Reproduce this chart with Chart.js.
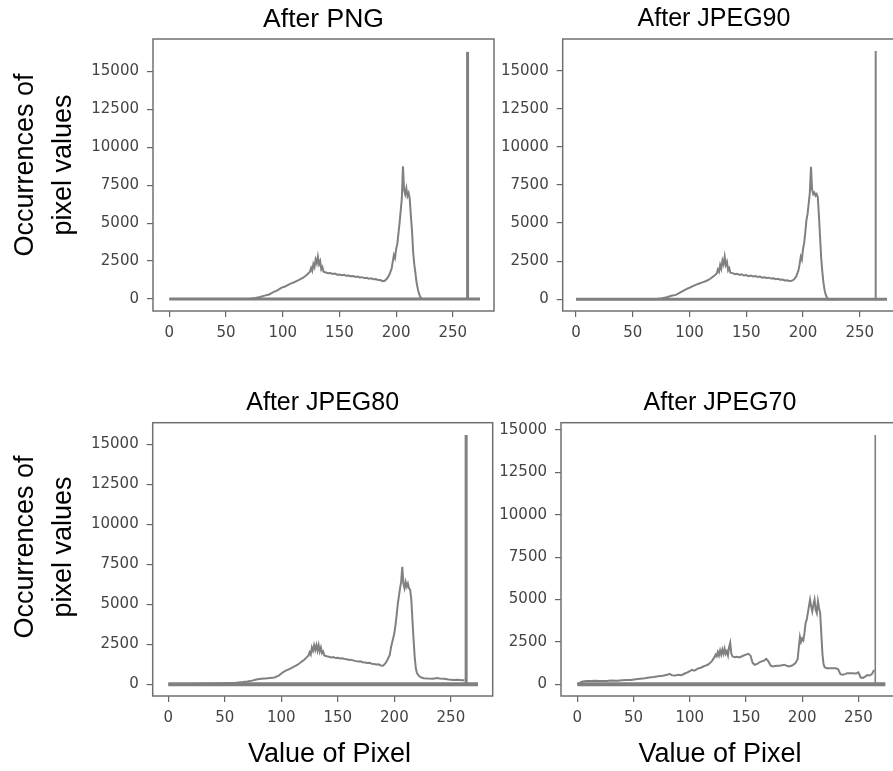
<!DOCTYPE html>
<html>
<head>
<meta charset="utf-8">
<script src="https://cdn.jsdelivr.net/npm/chart.js@4.4.1/dist/chart.umd.min.js"></script>
<style>
  html, body { margin: 0; padding: 0; background: #fff; overflow: hidden; }
  #page { position: relative; width: 893px; height: 771px; overflow: hidden; background: #fff; }
  canvas { position: absolute; }
</style>
</head>
<body>
<div id="page">
  <canvas id="png"></canvas>
  <canvas id="jpeg90"></canvas>
  <canvas id="jpeg80"></canvas>
  <canvas id="jpeg70"></canvas>
</div>
<script>
// tick labels
const xTicks = [0, 50, 100, 150, 200, 250];
const yTicks = [0, 2500, 5000, 7500, 10000, 12500, 15000];

const titles = ['After PNG', 'After JPEG90', 'After JPEG80', 'After JPEG70'];
const yLabel = ['Occurrences of', 'pixel values'];
const xLabel = 'Value of Pixel';

// flat line drawn at zero under every histogram
const baselineBins = [0, 274];

// the tall single bar near the right edge of each panel
const spikeBins = [263, 264, 263.5, 265];
const spikeCounts = [16300, 16290, 15580, 14700];

const pngBins = [0, 70, 76, 80, 84, 88, 90, 92, 94, 96, 98, 100, 102, 104, 106, 108, 110, 112, 114, 116, 118, 120, 122, 124,
  125, 126, 127, 128, 129, 130, 131, 132, 133, 134, 135, 136, 138, 140, 142, 144, 146, 148, 150, 152, 154, 156, 158, 160,
  162, 164, 166, 168, 170, 172, 174, 176, 178, 180, 182, 184, 186, 188, 190, 192, 194, 196, 197, 198, 199, 200, 201, 202,
  203, 204, 205, 206, 207, 208, 209, 210, 211, 212, 213, 214, 215, 216, 217, 218, 219, 220, 221, 222, 223, 230];
const pngCounts = [0, 0, 60, 130, 220, 300, 380, 470, 520, 600, 700, 780, 820, 900, 980, 1050, 1100, 1180, 1250, 1330, 1400, 1520, 1650, 1800,
  2050, 1850, 2300, 2100, 2600, 2350, 2800, 2300, 2500, 1950, 2100, 1800, 1750, 1700, 1720, 1650, 1680, 1600, 1620, 1570, 1600, 1540, 1550, 1500,
  1520, 1450, 1480, 1420, 1440, 1380, 1400, 1340, 1360, 1300, 1320, 1260, 1250, 1180, 1200, 1350, 1600, 2000, 2450, 2900, 2700, 3300, 3600, 4300,
  5000, 5800, 6600, 8750, 7200, 6900, 7300, 6800, 7000, 6600, 5500, 4500, 3100, 2300, 1700, 1100, 700, 400, 180, 60, 0, 0];

const jpeg90Bins = [0, 70, 76, 80, 84, 88, 90, 92, 94, 96, 98, 100, 102, 104, 106, 108, 110, 112, 114, 116, 118, 120, 122, 124,
  125, 126, 127, 128, 129, 130, 131, 132, 133, 134, 135, 136, 138, 140, 142, 144, 146, 148, 150, 152, 154, 156, 158, 160,
  162, 164, 166, 168, 170, 172, 174, 176, 178, 180, 182, 184, 186, 188, 190, 192, 194, 196, 197, 198, 199, 200, 201, 202,
  203, 204, 205, 206, 207, 208, 209, 210, 211, 212, 213, 214, 215, 216, 217, 218, 219, 220, 221, 222, 223, 230];
const jpeg90Counts = [0, 0, 70, 140, 230, 290, 370, 460, 540, 620, 700, 760, 830, 900, 960, 1020, 1080, 1130, 1180, 1250, 1330, 1450, 1560, 1700,
  1950, 1800, 2250, 2000, 2550, 2300, 2800, 2250, 2450, 1900, 2050, 1750, 1720, 1650, 1680, 1600, 1640, 1560, 1590, 1520, 1560, 1500, 1520, 1470,
  1490, 1420, 1450, 1400, 1420, 1360, 1380, 1320, 1340, 1280, 1300, 1240, 1250, 1200, 1210, 1300, 1500, 1900, 2300, 2800, 2600, 3300, 3700, 4400,
  5200, 5600, 6300, 7000, 8700, 7200, 6900, 7000, 6800, 6900, 6700, 5500, 4100, 2700, 1800, 1100, 600, 300, 120, 30, 0, 0];

const jpeg80Bins = [0, 20, 40, 50, 60, 66, 70, 74, 78, 82, 86, 90, 94, 98, 100, 102, 104, 106, 108, 110, 112, 114, 116, 118, 120, 122, 124,
  125, 126, 127, 128, 129, 130, 131, 132, 133, 134, 135, 136, 137, 138, 140, 142, 144, 146, 148, 150, 152, 154, 156, 158, 160,
  162, 164, 166, 168, 170, 172, 174, 176, 178, 180, 182, 184, 186, 188, 190, 192, 194, 196, 197, 198, 199, 200, 201, 202,
  203, 204, 205, 206, 207, 208, 209, 210, 211, 212, 213, 214, 215, 216, 217, 218, 219, 220, 222, 224, 226, 230, 234, 238,
  240, 244, 248, 252, 256, 260, 262];
const jpeg80Counts = [0, 20, 50, 70, 100, 140, 180, 230, 300, 340, 370, 400, 430, 560, 680, 780, 850, 920, 980, 1060, 1130, 1220, 1300, 1420, 1520, 1650, 1800,
  2000, 1850, 2300, 2100, 2450, 2150, 2450, 2100, 2450, 2050, 2300, 1950, 2050, 1800, 1750, 1720, 1680, 1700, 1640, 1660, 1610, 1620, 1580, 1560, 1520,
  1540, 1480, 1450, 1420, 1440, 1380, 1360, 1330, 1350, 1290, 1270, 1240, 1250, 1180, 1160, 1300, 1550, 1850, 2300, 2600, 2900, 3200, 3700, 4300,
  5000, 5500, 6000, 6400, 7350, 6300, 6000, 6400, 6100, 6300, 6000, 5900, 5300, 4000, 2800, 1700, 1000, 700, 500, 420, 380, 360, 350, 390,
  370, 340, 300, 270, 280, 260, 250];

const jpeg70Bins = [0, 4, 8, 12, 16, 20, 26, 30, 36, 40, 44, 48, 52, 56, 60, 64, 68, 72, 76, 80, 82, 84, 86, 88, 90, 92, 94, 96, 98, 100,
  102, 104, 106, 108, 110, 112, 114, 116, 118, 120, 122, 123, 124, 125, 126, 127, 128, 129, 130, 131, 132, 133, 134, 135, 136, 137, 138,
  140, 142, 144, 146, 148, 150, 152, 154, 156, 158, 160, 162, 164, 166, 168, 170, 172, 174, 176, 178, 180, 182, 184, 186, 188, 190, 192,
  194, 196, 197, 198, 199, 200, 201, 202, 203, 204, 205, 206, 207, 208, 209, 210, 211, 212, 213, 214, 215, 216, 217, 218, 219, 220,
  222, 226, 230, 232, 234, 236, 238, 240, 244, 248, 250, 252, 254, 256, 258, 260, 262, 264];
const jpeg70Counts = [0, 150, 200, 190, 210, 200, 200, 220, 210, 240, 260, 250, 300, 330, 360, 400, 430, 480, 500, 560, 620, 540, 520, 530, 560, 540, 580, 650, 700, 780,
  850, 800, 880, 950, 980, 1050, 1100, 1150, 1250, 1400, 1600, 1750, 1650, 1900, 1700, 2000, 1750, 2050, 1800, 2100, 1800, 1950, 1700, 2200, 2450, 1800, 1650,
  1600, 1620, 1580, 1640, 1700, 1750, 1800, 1700, 1250, 1150, 1200, 1300, 1350, 1400, 1500, 1350, 1100, 1050, 1080, 1100, 1100, 1120, 1150, 1100, 1050, 1080, 1150,
  1250, 1500, 2200, 2800, 2500, 2700, 2600, 3000, 3600, 3800, 4200, 4600, 5000, 4600, 4300, 4700, 5000, 4400, 4200, 4900, 4500, 4200, 3000, 1800, 1200, 1000,
  950, 950, 940, 880, 600, 560, 600, 650, 650, 640, 700, 400, 380, 450, 550, 520, 600, 850];

const GREY = '#808080';
const textFont = { family: 'Liberation Sans', size: 27, weight: 'normal', lineHeight: 1.2 };
const tickFont = { family: 'DejaVu Sans', size: 15 };

// axes frame on all four sides
const frame = {
  id: 'frame',
  afterDatasetsDraw(chart) {
    const { ctx, chartArea: a } = chart;
    ctx.save();
    ctx.strokeStyle = '#707070';
    ctx.lineWidth = 1.5;
    ctx.strokeRect(a.left, a.top, a.right - a.left, a.bottom - a.top);
    ctx.restore();
  }
};

// canvas = where the canvas sits on the page, area = where the plot frame goes.
// Wide canvases + an empty right box are only there to centre the texts like the original.
const panels = [
  { id: 'png', k: 0, bins: pngBins, counts: pngCounts, titleSize: 26.5,
    canvas: { left: 0, top: -60, w: 510, h: 450 }, area: { l: 153, t: 39, r: 494, b: 311 },
    titleMid: 19.3, titleFull: false, xMin: -14.4, xMax: 286.3, yMin: -792, yMax: 17150,
    showY: true, showX: false, spikeW: 3, baseW: 3 },
  { id: 'jpeg90', k: 1, bins: jpeg90Bins, counts: jpeg90Counts, titleSize: 25,
    canvas: { left: 495, top: 0, w: 438, h: 390 }, area: { l: 562.7, t: 39, r: 901, b: 311 },
    titleMid: 19.3, titleFull: true, xMin: -11.7, xMax: 286.3, yMin: -768, yMax: 17080,
    showY: false, showX: false, spikeW: 2, baseW: 3 },
  { id: 'jpeg80', k: 2, bins: jpeg80Bins, counts: jpeg80Counts, titleSize: 25,
    canvas: { left: 0, top: 323, w: 659, h: 448 }, area: { l: 152.7, t: 422.7, r: 492.7, b: 696 },
    titleMid: 403.5, titleFull: false, xMin: -13.8, xMax: 287, yMin: -731, yMax: 16350,
    showY: true, showX: true, spikeW: 3, baseW: 4 },
  { id: 'jpeg70', k: 3, bins: jpeg70Bins, counts: jpeg70Counts, titleSize: 25,
    canvas: { left: 495, top: 385, w: 450, h: 386 }, area: { l: 561, t: 422.7, r: 900, b: 696 },
    titleMid: 403.5, titleFull: true, xMin: -14.5, xMax: 287, yMin: -690, yMax: 15430,
    showY: false, showX: true, spikeW: 1.6, baseW: 4 }
];

// empty axis used only to hold an axis title
function labelAxis(position, size, weight, text, padding) {
  const vertical = position === 'left' || position === 'right';
  return {
    type: 'linear', position, weight, fullSize: true, display: true,
    grid: { display: false }, border: { display: false }, ticks: { display: false },
    afterFit: s => { if (vertical) s.width = size; else s.height = size; },
    title: text ? { display: true, text, color: '#000', font: vertical ? { ...textFont, lineHeight: 1.42 } : textFont, padding } : { display: false }
  };
}

function makeChart(p) {
  const c = document.getElementById(p.id);
  c.width = p.canvas.w;
  c.height = p.canvas.h;
  c.style.left = p.canvas.left + 'px';
  c.style.top = p.canvas.top + 'px';

  const ylWidth = p.showY ? 80 : 0;
  const yWidth = p.area.l - p.canvas.left - ylWidth;
  const rightGap = p.canvas.left + p.canvas.w - p.area.r;
  const bottomGap = p.canvas.top + p.canvas.h - p.area.b;
  const xlHeight = p.showX ? 35 : 0;
  const xHeight = bottomGap - xlHeight;
  const titleFont = { ...textFont, size: p.titleSize };
  const lh = p.titleSize * textFont.lineHeight;
  const titleTop = p.titleMid - p.canvas.top - lh / 2;
  const titleBottom = p.area.t - p.canvas.top - titleTop - lh;
  const sx = spikeBins[p.k];

  const scales = {
    x: {
      type: 'linear', min: p.xMin, max: p.xMax, weight: 0,
      afterBuildTicks: s => { s.ticks = xTicks.map(v => ({ value: v })); },
      afterFit: s => { s.height = xHeight; },
      grid: { drawOnChartArea: false, tickLength: 6, color: '#666', lineWidth: 1.2 },
      border: { display: false },
      ticks: { font: tickFont, color: '#444', padding: 7, maxRotation: 0, autoSkip: false, callback: v => String(v) }
    },
    y: {
      type: 'linear', min: p.yMin, max: p.yMax, weight: 0,
      afterBuildTicks: s => { s.ticks = yTicks.map(v => ({ value: v })); },
      afterFit: s => { s.width = yWidth; },
      grid: { drawOnChartArea: false, tickLength: 6, color: '#666', lineWidth: 1.2 },
      border: { display: false },
      ticks: { font: tickFont, color: '#444', padding: 8, autoSkip: false, callback: v => String(v) }
    }
  };
  if (p.showY) scales.yl = labelAxis('left', ylWidth, 1, yLabel, { top: 6, bottom: 0 });
  if (p.showX) scales.xl = labelAxis('bottom', xlHeight, 1, xLabel, { top: 0, bottom: 0 });
  if (rightGap > 20) scales.yr = labelAxis('right', rightGap, 1, null, 0);

  new Chart(c, {
    type: 'line',
    data: {
      datasets: [
        { data: p.bins.map((x, i) => ({ x, y: p.counts[i] })), borderColor: GREY, borderWidth: 2 },
        { data: baselineBins.map(x => ({ x, y: 0 })), borderColor: GREY, borderWidth: p.baseW },
        { data: [{ x: sx, y: 0 }, { x: sx, y: spikeCounts[p.k] }], borderColor: GREY, borderWidth: p.spikeW }
      ]
    },
    options: {
      responsive: false,
      animation: false,
      devicePixelRatio: 1,
      layout: { padding: { left: 0, right: rightGap > 20 ? 0 : rightGap, top: 0, bottom: 0 } },
      elements: { point: { radius: 0 }, line: { tension: 0, fill: false } },
      plugins: {
        legend: { display: false },
        tooltip: { enabled: false },
        title: {
          display: true, text: titles[p.k], color: '#000', font: titleFont,
          fullSize: p.titleFull,
          padding: { top: titleTop, bottom: titleBottom }
        }
      },
      scales
    },
    plugins: [frame]
  });
}

panels.forEach(makeChart);
</script>
</body>
</html>
